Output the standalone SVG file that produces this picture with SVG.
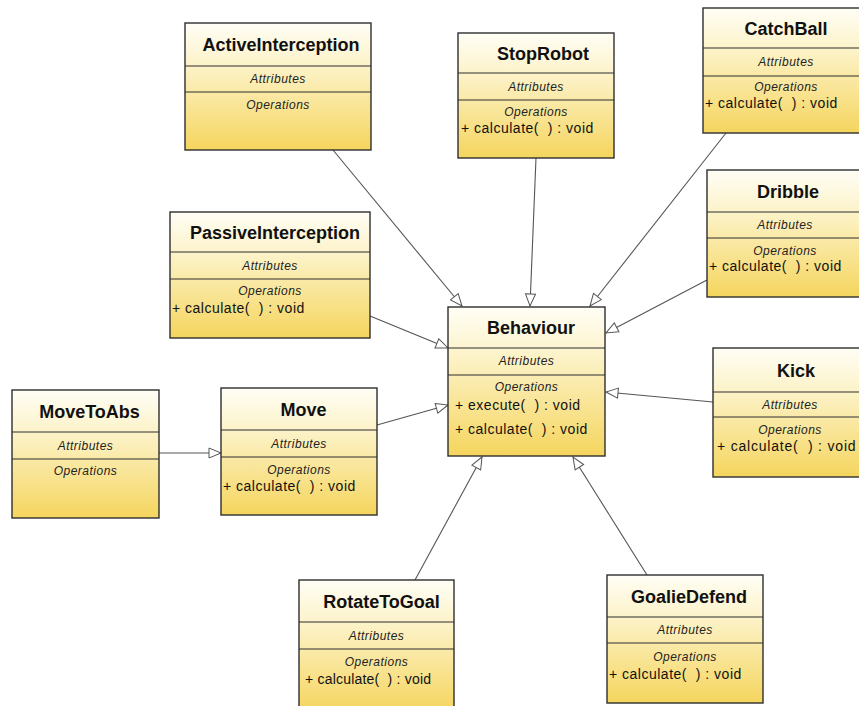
<svg xmlns="http://www.w3.org/2000/svg" width="859" height="706" viewBox="0 0 859 706">
<defs>
<linearGradient id="fillG" x1="0" y1="0" x2="0" y2="1">
<stop offset="0" stop-color="#fffef6"/>
<stop offset="0.35" stop-color="#fcf2c6"/>
<stop offset="1" stop-color="#f5d55e"/>
</linearGradient>
<marker id="gen" markerWidth="15" markerHeight="12" refX="13.5" refY="6" orient="auto" markerUnits="userSpaceOnUse">
<path d="M1.5,1 L13.5,6 L1.5,11 Z" fill="#ffffff" stroke="#555555" stroke-width="1"/>
</marker>
<style>
.box{fill:url(#fillG);stroke:#2e2e2e;stroke-width:1.4}
.div{stroke:#2e2e2e;stroke-width:1.2}
.title{font-family:"Liberation Sans",Arial,sans-serif;font-weight:bold;font-size:18px;fill:#111;text-anchor:middle}
.comp{font-family:"Liberation Sans",Arial,sans-serif;font-style:italic;font-size:12px;letter-spacing:0.5px;fill:#222;text-anchor:middle}
.op{font-family:"Liberation Sans",Arial,sans-serif;font-size:14px;letter-spacing:0.5px;fill:#111}
.conn{stroke:#555555;stroke-width:1.1;fill:none;marker-end:url(#gen)}
</style>
</defs>
<rect width="859" height="706" fill="#ffffff"/>

<g id="connectors">
<line class="conn" x1="333" y1="150" x2="462" y2="306"/>
<line class="conn" x1="536" y1="158" x2="530" y2="306"/>
<line class="conn" x1="726" y1="133" x2="590" y2="306"/>
<line class="conn" x1="707" y1="280" x2="606" y2="333"/>
<line class="conn" x1="370" y1="316" x2="448" y2="348"/>
<line class="conn" x1="377" y1="425" x2="448" y2="405"/>
<line class="conn" x1="713" y1="402" x2="606" y2="392"/>
<line class="conn" x1="159" y1="453" x2="221" y2="453"/>
<line class="conn" x1="415" y1="580" x2="482" y2="457"/>
<line class="conn" x1="647" y1="575" x2="573" y2="457"/>
</g>

<g id="ActiveInterception">
<rect class="box" x="185" y="23" width="186" height="127"/>
<line class="div" x1="185" y1="66" x2="371" y2="66"/>
<line class="div" x1="185" y1="92" x2="371" y2="92"/>
<text class="title" x="281" y="51">ActiveInterception</text>
<text class="comp" x="278" y="83">Attributes</text>
<text class="comp" x="278" y="109">Operations</text>
</g>

<g id="StopRobot">
<rect class="box" x="458" y="33" width="156" height="125"/>
<line class="div" x1="458" y1="73" x2="614" y2="73"/>
<line class="div" x1="458" y1="100" x2="614" y2="100"/>
<text class="title" x="543" y="59.5">StopRobot</text>
<text class="comp" x="536" y="90.5">Attributes</text>
<text class="comp" x="536" y="116">Operations</text>
<text class="op" x="461" y="133">+ calculate(&#160;&#160;) : void</text>
</g>

<g id="CatchBall">
<rect class="box" x="703" y="8" width="167" height="125"/>
<line class="div" x1="703" y1="48" x2="870" y2="48"/>
<line class="div" x1="703" y1="76" x2="870" y2="76"/>
<text class="title" x="786" y="34.5">CatchBall</text>
<text class="comp" x="786" y="66">Attributes</text>
<text class="comp" x="786" y="91">Operations</text>
<text class="op" x="705" y="108">+ calculate(&#160;&#160;) : void</text>
</g>

<g id="PassiveInterception">
<rect class="box" x="170" y="212" width="200" height="126"/>
<line class="div" x1="170" y1="252" x2="370" y2="252"/>
<line class="div" x1="170" y1="279" x2="370" y2="279"/>
<text class="title" x="275" y="238.5">PassiveInterception</text>
<text class="comp" x="270" y="269.5">Attributes</text>
<text class="comp" x="270" y="295">Operations</text>
<text class="op" x="172" y="313">+ calculate(&#160;&#160;) : void</text>
</g>

<g id="Behaviour">
<rect class="box" x="448" y="307" width="157" height="149"/>
<line class="div" x1="448" y1="348" x2="605" y2="348"/>
<line class="div" x1="448" y1="375" x2="605" y2="375"/>
<text class="title" x="531" y="334">Behaviour</text>
<text class="comp" x="526.5" y="365">Attributes</text>
<text class="comp" x="526.5" y="391">Operations</text>
<text class="op" x="455" y="410">+ execute(&#160;&#160;) : void</text>
<text class="op" x="455" y="434">+ calculate(&#160;&#160;) : void</text>
</g>

<g id="Dribble">
<rect class="box" x="707" y="170" width="160" height="127"/>
<line class="div" x1="707" y1="212" x2="867" y2="212"/>
<line class="div" x1="707" y1="238" x2="867" y2="238"/>
<text class="title" x="788" y="197.5">Dribble</text>
<text class="comp" x="785" y="229">Attributes</text>
<text class="comp" x="785" y="255">Operations</text>
<text class="op" x="709" y="271">+ calculate(&#160;&#160;) : void</text>
</g>

<g id="Kick">
<rect class="box" x="713" y="348" width="155" height="129"/>
<line class="div" x1="713" y1="392" x2="868" y2="392"/>
<line class="div" x1="713" y1="417" x2="868" y2="417"/>
<text class="title" x="796" y="376.5">Kick</text>
<text class="comp" x="790" y="408.5">Attributes</text>
<text class="comp" x="790" y="434">Operations</text>
<text class="op" x="717" y="451" style="letter-spacing:0.8px">+ calculate(&#160;&#160;) : void</text>
</g>

<g id="MoveToAbs">
<rect class="box" x="12" y="390" width="147" height="128"/>
<line class="div" x1="12" y1="432" x2="159" y2="432"/>
<line class="div" x1="12" y1="459" x2="159" y2="459"/>
<text class="title" x="89.5" y="417.5">MoveToAbs</text>
<text class="comp" x="85.5" y="449.5">Attributes</text>
<text class="comp" x="85.5" y="475">Operations</text>
</g>

<g id="Move">
<rect class="box" x="221" y="388" width="156" height="127"/>
<line class="div" x1="221" y1="430" x2="377" y2="430"/>
<line class="div" x1="221" y1="457" x2="377" y2="457"/>
<text class="title" x="303.5" y="415.5">Move</text>
<text class="comp" x="299" y="447.5">Attributes</text>
<text class="comp" x="299" y="474">Operations</text>
<text class="op" x="223" y="491">+ calculate(&#160;&#160;) : void</text>
</g>

<g id="RotateToGoal">
<rect class="box" x="299" y="580" width="155" height="132"/>
<line class="div" x1="299" y1="622" x2="454" y2="622"/>
<line class="div" x1="299" y1="649" x2="454" y2="649"/>
<text class="title" x="381.5" y="607.5">RotateToGoal</text>
<text class="comp" x="376.5" y="639.5">Attributes</text>
<text class="comp" x="376.5" y="666">Operations</text>
<text class="op" x="305" y="684" style="letter-spacing:0.2px">+ calculate(&#160;&#160;) : void</text>
</g>

<g id="GoalieDefend">
<rect class="box" x="607" y="575" width="156" height="128"/>
<line class="div" x1="607" y1="617" x2="763" y2="617"/>
<line class="div" x1="607" y1="643" x2="763" y2="643"/>
<text class="title" x="689" y="602.5">GoalieDefend</text>
<text class="comp" x="685" y="634">Attributes</text>
<text class="comp" x="685" y="661">Operations</text>
<text class="op" x="609" y="679">+ calculate(&#160;&#160;) : void</text>
</g>
</svg>
